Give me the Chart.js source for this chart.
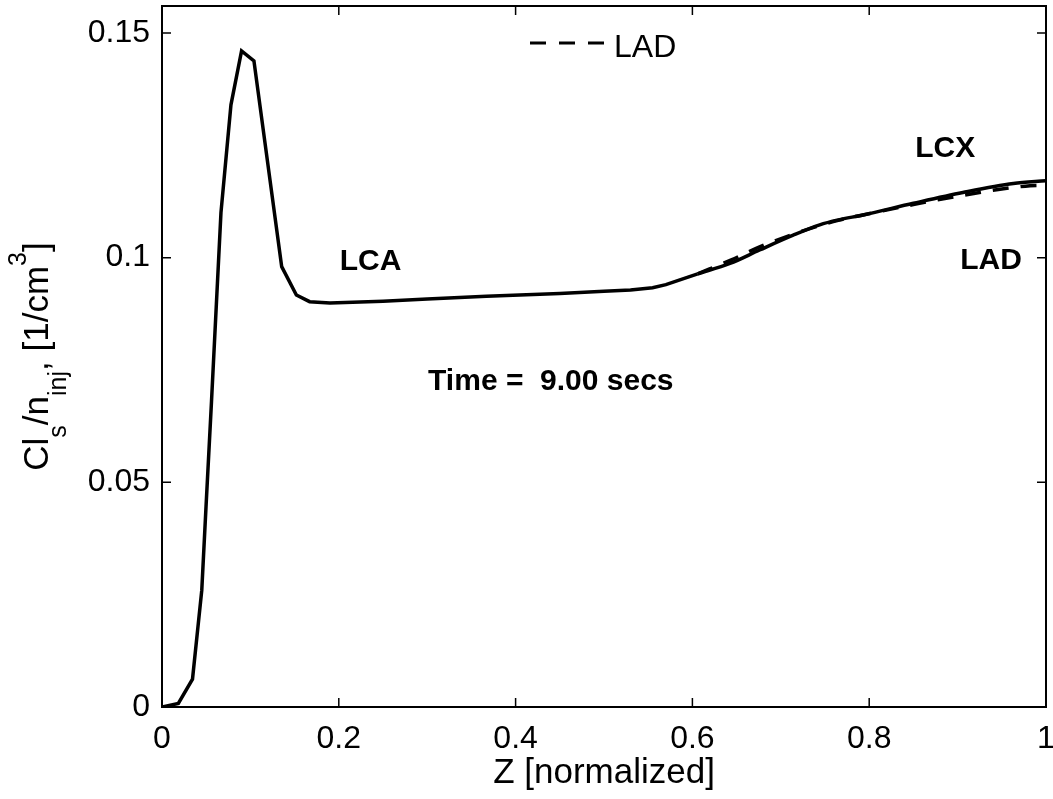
<!DOCTYPE html>
<html>
<head>
<meta charset="utf-8">
<script src="https://cdn.jsdelivr.net/npm/chart.js@4.4.1/dist/chart.umd.min.js"></script>
<style>
    html, body { margin: 0; padding: 0; background: #ffffff; }
    #wrap { width: 1053px; height: 799px; position: relative; }
</style>
</head>
<body>
<div id="wrap"><canvas id="cl-chart"></canvas></div>
<script>
const xTicks = [0, 0.2, 0.4, 0.6, 0.8, 1];
const xTickLabels = ['0', '0.2', '0.4', '0.6', '0.8', '1'];
const yTicks = [0, 0.05, 0.1, 0.15];
const yTickLabels = ['0', '0.05', '0.1', '0.15'];

// LCA segment (solid)
const lcaZ = [0, 0.0185, 0.0345, 0.045, 0.0498, 0.056, 0.0667, 0.078, 0.090, 0.104, 0.1354, 0.152, 0.167, 0.19,
    0.25, 0.3, 0.367, 0.45, 0.5, 0.53, 0.555, 0.57, 0.585, 0.606];
const lcaValues = [0, 0.0008, 0.0062, 0.026, 0.0446, 0.068, 0.110, 0.134, 0.146, 0.1438, 0.098, 0.0917, 0.0902, 0.0899,
    0.0903, 0.0908, 0.0914, 0.0920, 0.0925, 0.0928, 0.0933, 0.0940, 0.0950, 0.0964];

// LCX segment (solid)
const lcxZ = [0.606, 0.6425, 0.676, 0.714, 0.744, 0.765, 0.793, 0.85, 0.906, 0.963, 1.0];
const lcxValues = [0.0964, 0.0987, 0.1017, 0.105, 0.1073, 0.1084, 0.1095, 0.1121, 0.1145, 0.1165, 0.1171];

// LAD segment (dashed)
const ladZ = [0.606, 0.644, 0.676, 0.7066, 0.74, 0.765, 0.793, 0.85, 0.876, 0.944, 0.982, 1.0];
const ladValues = [0.0964, 0.0995, 0.1024, 0.1047, 0.1069, 0.1083, 0.1095, 0.1118, 0.1128, 0.1151, 0.116, 0.1161];

const FONT = "'Liberation Sans', Arial, Helvetica, sans-serif";

function toPoints(xs, ys) {
    return xs.map((x, i) => ({ x: x, y: ys[i] }));
}

const framePlugin = {
    id: 'frame',
    afterDatasetsDraw(chart) {
        const { ctx, chartArea: a, scales } = chart;
        ctx.save();
        ctx.strokeStyle = '#000';
        ctx.lineWidth = 2;
        ctx.strokeRect(a.left, a.top, a.right - a.left, a.bottom - a.top);

        // inward ticks on all four sides
        const len = 9;
        ctx.lineWidth = 1.5;
        ctx.beginPath();
        xTicks.forEach(v => {
            const px = scales.x.getPixelForValue(v);
            ctx.moveTo(px, a.bottom);
            ctx.lineTo(px, a.bottom - len);
            ctx.moveTo(px, a.top);
            ctx.lineTo(px, a.top + len);
        });
        yTicks.forEach(v => {
            const py = scales.y.getPixelForValue(v);
            ctx.moveTo(a.left, py);
            ctx.lineTo(a.left + len, py);
            ctx.moveTo(a.right, py);
            ctx.lineTo(a.right - len, py);
        });
        ctx.stroke();
        ctx.restore();
    },
    afterDraw(chart) {
        const { ctx, chartArea: a, scales } = chart;
        const sx = v => scales.x.getPixelForValue(v);
        const sy = v => scales.y.getPixelForValue(v);
        ctx.save();
        ctx.fillStyle = '#000';
        ctx.textBaseline = 'alphabetic';
        ctx.textAlign = 'left';

        // region labels
        ctx.font = 'bold 30px ' + FONT;
        ctx.fillText('LCA', sx(0.201), sy(0.0973));
        ctx.fillText('Time =  9.00 secs', sx(0.301), sy(0.0706));
        ctx.fillText('LCX', sx(0.852), sy(0.1224));
        ctx.fillText('LAD', sx(0.903), sy(0.0975));

        // legend (only the dashed series)
        const lad = chart.data.datasets[2];
        ctx.strokeStyle = lad.borderColor;
        ctx.lineWidth = 3;
        ctx.setLineDash([16, 13]);
        ctx.beginPath();
        ctx.moveTo(530, 43);
        ctx.lineTo(607, 43);
        ctx.stroke();
        ctx.setLineDash([]);
        ctx.font = '32px ' + FONT;
        ctx.fillText(lad.label, 614, 57);

        // y axis title with sub/superscripts
        const parts = [
            ['Cl', 'main'], ['s', 'sub'], ['/n', 'main'], ['inj', 'sub'],
            [', [1/cm', 'main'], ['3', 'sup'], [']', 'main']
        ];
        const fonts = { main: '35px ' + FONT, sub: '25px ' + FONT, sup: '25px ' + FONT };
        const shift = { main: 0, sub: 18, sup: -22 };
        let total = 0;
        parts.forEach(p => { ctx.font = fonts[p[1]]; total += ctx.measureText(p[0]).width; });
        ctx.translate(48, (a.top + a.bottom) / 2);
        ctx.rotate(-Math.PI / 2);
        let cx = -total / 2;
        parts.forEach(p => {
            ctx.font = fonts[p[1]];
            ctx.fillText(p[0], cx, shift[p[1]]);
            cx += ctx.measureText(p[0]).width;
        });
        ctx.restore();
    }
};

const ctx = document.getElementById('cl-chart').getContext('2d');

new Chart(ctx, {
    type: 'line',
    data: {
        datasets: [
            {
                label: 'LCA',
                data: toPoints(lcaZ, lcaValues),
                borderColor: '#000000',
                borderWidth: 3.5,
                pointRadius: 0,
                tension: 0,
                fill: false
            },
            {
                label: 'LCX',
                data: toPoints(lcxZ, lcxValues),
                borderColor: '#000000',
                borderWidth: 3.5,
                pointRadius: 0,
                cubicInterpolationMode: 'monotone',
                fill: false
            },
            {
                label: 'LAD',
                data: toPoints(ladZ, ladValues),
                borderColor: '#000000',
                borderWidth: 3.5,
                borderDash: [16, 12],
                pointRadius: 0,
                cubicInterpolationMode: 'monotone',
                fill: false
            }
        ]
    },
    options: {
        responsive: true,
        maintainAspectRatio: false,
        animation: false,
        layout: {
            padding: { top: 6, right: 7, left: 0, bottom: 0 }
        },
        scales: {
            x: {
                type: 'linear',
                min: 0,
                max: 1,
                afterBuildTicks: scale => { scale.ticks = xTicks.map(v => ({ value: v })); },
                afterFit: scale => {
                    scale.height = 92;
                    scale.paddingLeft = 0;
                    scale.paddingRight = 0;
                },
                grid: { display: false, drawTicks: false },
                border: { display: false },
                ticks: {
                    color: '#000',
                    padding: 13,
                    maxRotation: 0,
                    autoSkip: false,
                    font: { family: FONT, size: 32 },
                    callback: (value, index) => xTickLabels[index]
                },
                title: {
                    display: true,
                    text: 'Z [normalized]',
                    color: '#000',
                    font: { family: FONT, size: 35 },
                    padding: { top: 0, bottom: 5 }
                }
            },
            y: {
                type: 'linear',
                min: 0,
                max: 0.156,
                afterBuildTicks: scale => { scale.ticks = yTicks.map(v => ({ value: v })); },
                afterFit: scale => {
                    scale.width = 162;
                    scale.paddingTop = 0;
                    scale.paddingBottom = 0;
                },
                grid: { display: false, drawTicks: false },
                border: { display: false },
                ticks: {
                    color: '#000',
                    padding: 12,
                    autoSkip: false,
                    font: { family: FONT, size: 32 },
                    callback: (value, index) => yTickLabels[index]
                }
            }
        },
        plugins: {
            legend: { display: false },
            tooltip: { enabled: false }
        }
    },
    plugins: [framePlugin]
});
</script>
</body>
</html>
